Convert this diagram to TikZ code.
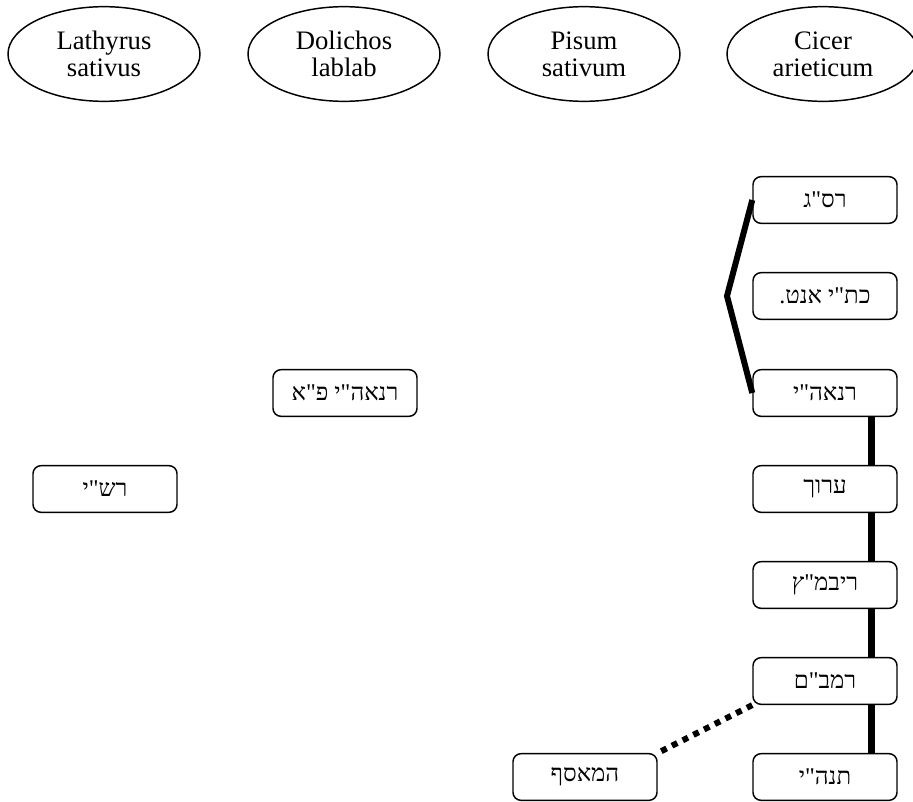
\documentclass[tikz,border=0pt]{standalone}
\usepackage{fontspec}
\setmainfont{Liberation Serif}
\newfontfamily\hebfont[Script=Hebrew]{Liberation Serif}
\TeXXeTstate=1
\usetikzlibrary{shapes.geometric,positioning}
\tikzset{
plant/.style={ellipse,draw,line width=1.1pt,minimum width=144pt,minimum height=71pt,inner sep=0pt,align=center,font=\fontsize{20}{20}\selectfont},
source/.style={draw,line width=1.1pt,rounded corners=6pt,minimum width=108pt,minimum height=35pt,inner sep=0pt,font=\hebfont\fontsize{18}{18}\selectfont},
chain/.style={line width=5pt},
fork/.style={line width=4.5pt},
loose/.style={line width=4.5pt,dash pattern=on 4.5pt off 4.5pt},
}
\newcommand{\heb}[1]{\beginR #1\endR}

\begin{document}
\begin{tikzpicture}[x=0.75pt,y=-0.75pt]
    \useasboundingbox (0,0) rectangle (913,801);

    \node[plant] (lathyrus) at (104,54) {Lathyrus\\sativus};
    \node[plant] (dolichos) at (344,54) {Dolichos\\lablab};
    \node[plant] (pisum) at (584,54) {Pisum\\sativum};
    \node[plant] (cicer) at (823,54) {Cicer\\arieticum};

    \node[source] (rasag) at (825,200) {\heb{רס"ג}};
    \node[source] (antonin) at (825,296) {\heb{כת"י אנט.}};
    \node[source] (rna) at (825,393) {\heb{רנאה"י}};
    \node[source] (arukh) at (825,489) {\heb{ערוך}};
    \node[source] (ribmatz) at (825,585) {\heb{ריבמ"ץ}};
    \node[source] (rambam) at (825,681) {\heb{רמב"ם}};
    \node[source] (tanhi) at (825,777) {\heb{תנה"י}};

    \node[source] (rnapa) at (345,393) {\heb{רנאה"י פ"א}};
    \node[source] (rashi) at (105,489) {\heb{רש"י}};
    \node[source] (measef) at (585,777) {\heb{המאסף}};

    \coordinate (bend) at (727,296);
    \draw[fork] (rasag.west) -- (bend) -- (rna.west);

    \foreach \a/\b in {rna/arukh,arukh/ribmatz,ribmatz/rambam,rambam/tanhi}
        \draw[chain] ([xshift=35pt]\a.south) -- ([xshift=35pt]\b.north);

    \draw[loose] (rambam.south west) -- (measef.north east);
\end{tikzpicture}
\end{document}
